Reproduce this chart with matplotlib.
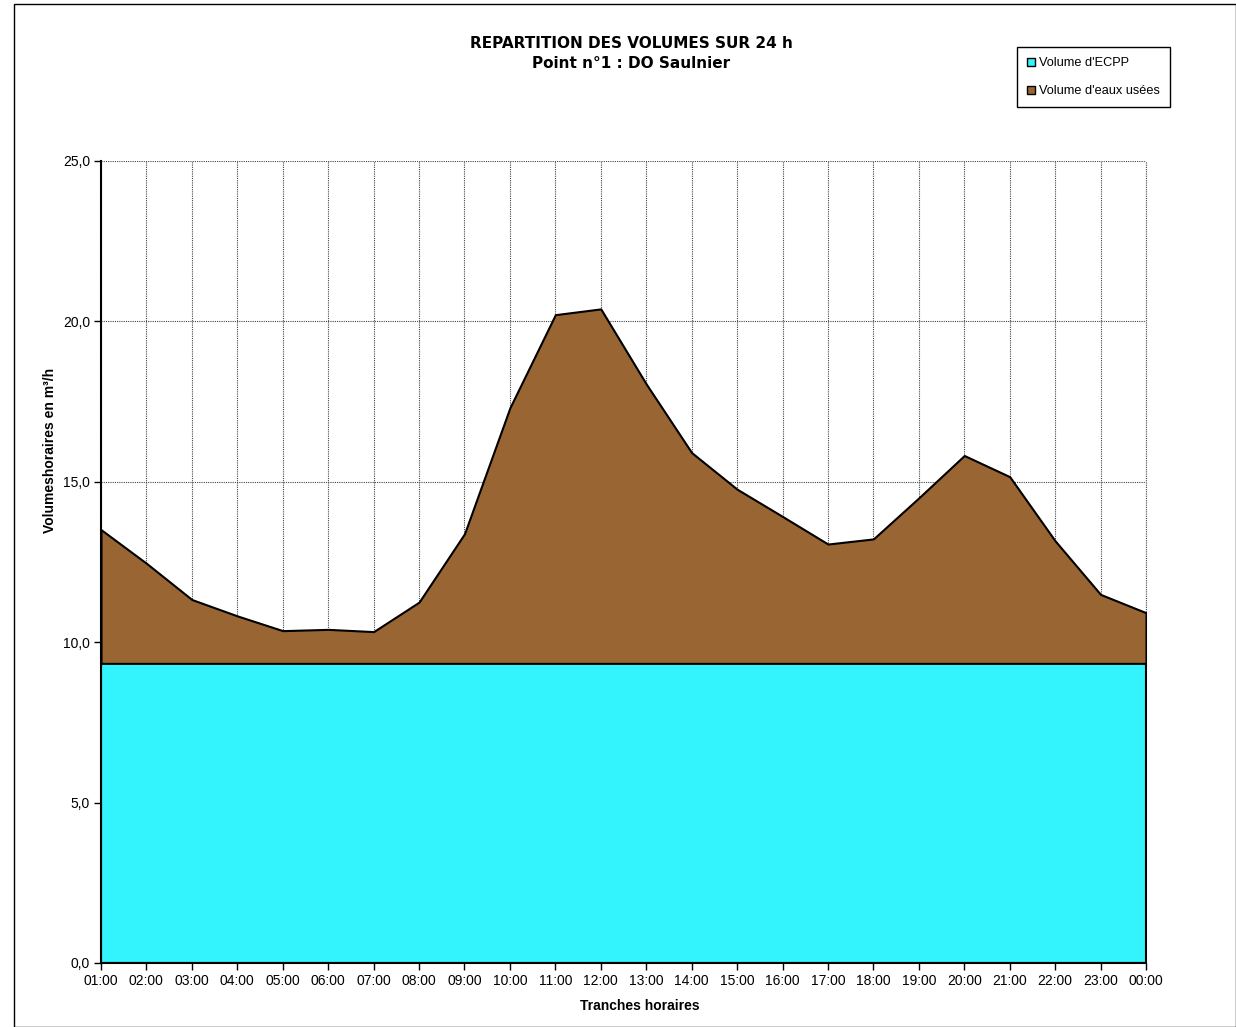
"""Répartition des volumes sur 24 h - Point n°1 : DO Saulnier (stacked area)."""
import matplotlib
matplotlib.use("Agg")
import matplotlib.pyplot as plt
from matplotlib.patches import Patch, Rectangle
from matplotlib.ticker import FuncFormatter
import numpy as np

hours = ["01:00", "02:00", "03:00", "04:00", "05:00", "06:00", "07:00", "08:00",
         "09:00", "10:00", "11:00", "12:00", "13:00", "14:00", "15:00", "16:00",
         "17:00", "18:00", "19:00", "20:00", "21:00", "22:00", "23:00", "00:00"]
# ECPP volume (constant) and total hourly volume, m3/h
ecpp = [9.34] * 24
total = [13.51, 12.46, 11.33, 10.82, 10.36, 10.40, 10.33, 11.25,
         13.38, 17.31, 20.21, 20.39, 18.05, 15.91, 14.77, 13.92,
         13.06, 13.22, 14.50, 15.82, 15.16, 13.16, 11.49, 10.92]
eaux_usees = [t - e for t, e in zip(total, ecpp)]

c_ecpp = "#33F3FC"
c_eu = "#996633"

plt.rcParams["font.family"] = ["Liberation Sans", "DejaVu Sans"]

fig = plt.figure(figsize=(12.36, 10.27), dpi=100)
ax = fig.add_axes([101 / 1236, 1 - 963 / 1027, 1045 / 1236, 802 / 1027])

x = np.arange(len(hours))
ax.stackplot(x, ecpp, eaux_usees, colors=[c_ecpp, c_eu], edgecolor="black",
             linewidth=1.5, zorder=2)

ax.set_xlim(0, len(hours) - 1)
ax.set_ylim(0, 25)
ax.set_xticks(x)
ax.set_xticklabels(hours, fontsize=10)
ax.set_yticks(np.arange(0, 26, 5))
ax.yaxis.set_major_formatter(FuncFormatter(lambda v, p: f"{v:.1f}".replace(".", ",")))
ax.tick_params(axis="both", direction="out", length=5, width=1, labelsize=10, pad=3)
ax.grid(True, color="#444444", linestyle=(0, (1, 1)), linewidth=0.8, zorder=1)
ax.set_axisbelow(True)
# right-hand grid line at 00:00 (sits on the axes limit)
ax.axvline(x[-1], color="#444444", linestyle=(0, (1, 1)), linewidth=0.8,
           zorder=1, clip_on=False)
for s in ["top", "right"]:
    ax.spines[s].set_visible(False)
for s in ["left", "bottom"]:
    ax.spines[s].set_linewidth(1.5)
    ax.spines[s].set_zorder(3)

fig.text(631 / 1236, 1 - 44 / 1027, "REPARTITION DES VOLUMES SUR 24 h", ha="center",
         va="center", fontsize=11, fontweight="bold", family="DejaVu Sans")
fig.text(631 / 1236, 1 - 64 / 1027, "Point n°1 : DO Saulnier", ha="center",
         va="center", fontsize=11, fontweight="bold", family="DejaVu Sans")
fig.text(50 / 1236, 1 - 450 / 1027, "Volumeshoraires en m³/h", rotation=90,
         ha="center", va="center", fontsize=10, fontweight="bold")
fig.text(640 / 1236, 1 - 1006 / 1027, "Tranches horaires", ha="center",
         va="center", fontsize=10, fontweight="bold")

handles = [Patch(facecolor=c_ecpp, edgecolor="black", linewidth=1),
           Patch(facecolor=c_eu, edgecolor="black", linewidth=1)]
leg = fig.legend(handles, ["Volume d'ECPP", "Volume d'eaux usées"],
                 loc="upper left", bbox_to_anchor=(1017 / 1236, 1 - 47 / 1027),
                 borderaxespad=0, fontsize=9.2, handlelength=0.6, handleheight=0.6,
                 handletextpad=0.35, labelspacing=1.25, borderpad=0.8,
                 fancybox=False, edgecolor="black", framealpha=1)
leg.get_frame().set_linewidth(1)

# outer frame of the chart area
fig.patches.append(Rectangle((14 / 1236, 0), 1 - 14 / 1236, 1 - 4 / 1027,
                             transform=fig.transFigure, fill=False,
                             edgecolor="black", linewidth=1))

fig.savefig("out.png", dpi=100)
